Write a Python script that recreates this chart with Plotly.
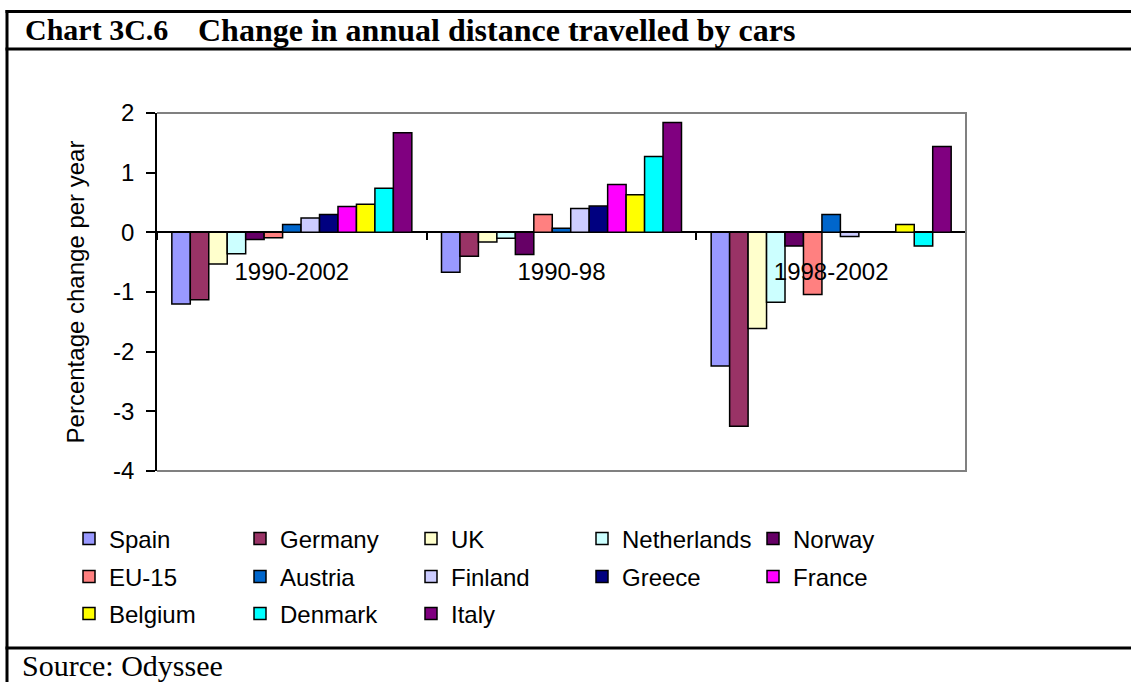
import plotly.graph_objects as go

# ---- data ----
periods = ["1990-2002", "1990-98", "1998-2002"]
countries = ["Spain", "Germany", "UK", "Netherlands", "Norway",
             "EU-15", "Austria", "Finland", "Greece", "France",
             "Belgium", "Denmark", "Italy"]
spain = [-1.20, -0.67, -2.24]
germany = [-1.13, -0.40, -3.25]
uk = [-0.53, -0.16, -1.61]
netherlands = [-0.36, -0.10, -1.17]
norway = [-0.12, -0.37, -0.23]
eu15 = [-0.09, 0.30, -1.04]
austria = [0.13, 0.07, 0.30]
finland = [0.24, 0.40, -0.07]
greece = [0.30, 0.44, None]
france = [0.435, 0.80, None]
belgium = [0.47, 0.63, 0.13]
denmark = [0.74, 1.27, -0.23]
italy = [1.67, 1.84, 1.44]
series = [spain, germany, uk, netherlands, norway, eu15, austria,
          finland, greece, france, belgium, denmark, italy]
colors = ["#9999FF", "#993366", "#FFFFCC", "#CCFFFF", "#660066",
          "#FF8080", "#0066CC", "#CCCCFF", "#000080", "#FF00FF",
          "#FFFF00", "#00FFFF", "#800080"]
legend_rows = ["legend"] * 5 + ["legend2"] * 5 + ["legend3"] * 3
y_tick_vals = [-4, -3, -2, -1, 0, 1, 2]
y_tick_text = ["-4", "-3", "-2", "-1", "0", "1", "2"]

# ---- geometry helpers (pixel -> paper) ----
W, H = 1131, 682
L, R, T, B = 157, 966, 113, 471
PW, PH = R - L, B - T


def px(x):
    return (x - L) / PW


def py(y):
    return (B - y) / PH


SANS = "Arial, Liberation Sans, sans-serif"
SERIF = "Times New Roman, Liberation Serif, serif"

fig = go.Figure()
for name, vals, col, lg in zip(countries, series, colors, legend_rows):
    fig.add_trace(go.Bar(
        x=periods, y=vals, name=name, legend=lg,
        marker=dict(color=col, line=dict(color="black", width=1.5)),
    ))

leg_common = dict(orientation="h", xanchor="left", yanchor="middle",
                  entrywidth=126, entrywidthmode="pixels",
                  font=dict(family=SANS, size=24, color="black"),
                  bgcolor="rgba(0,0,0,0)", traceorder="normal",
                  itemwidth=30)

shapes = []
# outer frame lines
for yy in (11.5, 49, 648):
    shapes.append(dict(type="line", xref="paper", yref="paper",
                       x0=px(5.5), x1=px(W + 5), y0=py(yy), y1=py(yy),
                       line=dict(color="black", width=3)))
shapes.append(dict(type="line", xref="paper", yref="paper",
                   x0=px(7), x1=px(7), y0=py(10), y1=py(H + 5),
                   line=dict(color="black", width=3)))
# grey plot-area border (top, right, bottom)
shapes.append(dict(type="path", xref="paper", yref="paper",
                   path="M 0,1 L 1,1 L 1,0 L 0,0",
                   line=dict(color="#808080", width=2)))

annotations = [
    dict(text="Chart 3C.6", x=px(23), y=py(30), xref="paper", yref="paper",
         xanchor="left", yanchor="middle", showarrow=False,
         font=dict(family=SERIF, size=30, color="black", weight="bold")),
    dict(text="Change in annual distance travelled by cars", x=px(196), y=py(30),
         xref="paper", yref="paper", xanchor="left", yanchor="middle",
         showarrow=False,
         font=dict(family=SERIF, size=32, color="black", weight="bold")),
    dict(text="Source: Odyssee", x=px(20), y=py(665), xref="paper", yref="paper",
         xanchor="left", yanchor="middle", showarrow=False,
         font=dict(family=SERIF, size=30, color="black")),
]

fig.update_layout(
    width=W, height=H,
    margin=dict(l=L, r=W - R, t=T, b=H - B, autoexpand=False),
    paper_bgcolor="white", plot_bgcolor="white",
    barmode="group", bargap=0.11, bargroupgap=0,
    showlegend=True,
    legend=dict(leg_common, x=px(69), y=py(539)),
    legend2=dict(leg_common, x=px(69), y=py(577)),
    legend3=dict(leg_common, x=px(69), y=py(614)),
    xaxis=dict(type="category", anchor="free", position=4 / 6,
               range=[-0.5, 2.5], showline=False, showgrid=False,
               zeroline=False, ticks="outside", tickson="boundaries",
               ticklen=7, tickwidth=1.5, tickcolor="black",
               ticklabelstandoff=23,
               tickfont=dict(family=SANS, size=24, color="black")),
    yaxis=dict(range=[-4, 2], tickmode="array", tickvals=y_tick_vals,
               ticktext=y_tick_text, showgrid=False,
               showline=True, linecolor="black", linewidth=1.5,
               zeroline=True, zerolinecolor="black", zerolinewidth=1.5,
               ticks="outside", ticklen=9, tickwidth=1.5, tickcolor="black",
               ticklabelstandoff=7,
               tickfont=dict(family=SANS, size=24, color="black"),
               title=dict(text="Percentage change per year", standoff=22,
                          font=dict(family=SANS, size=24, color="black"))),
    shapes=shapes,
    annotations=annotations,
)

fig.write_html("out.html",
               config={"displayModeBar": False},
               post_script="document.body.style.margin='0px';document.body.style.overflow='hidden';")
